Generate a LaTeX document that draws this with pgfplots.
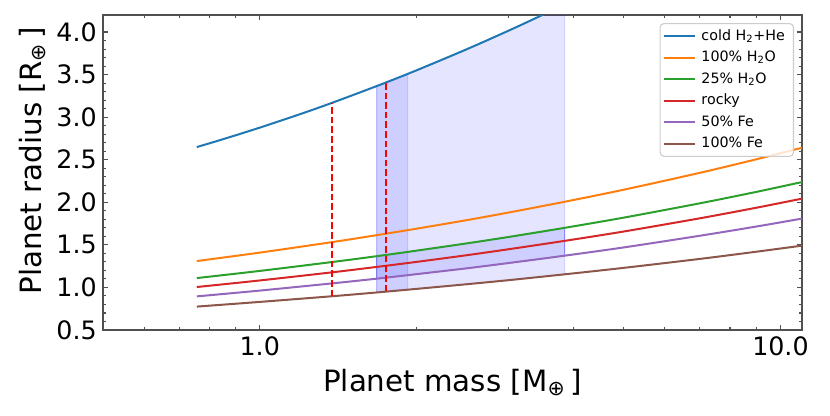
\documentclass[border=0pt]{standalone}
\usepackage{fontspec}
\setmainfont{DejaVu Sans}
\usepackage{pgfplots}
\pgfplotsset{compat=1.18}
\definecolor{c0}{HTML}{1F77B4}
\definecolor{c1}{HTML}{FF7F0E}
\definecolor{c2}{HTML}{2CA02C}
\definecolor{c3}{HTML}{D62728}
\definecolor{c4}{HTML}{9467BD}
\definecolor{c5}{HTML}{8C564B}
\definecolor{spine}{RGB}{80,80,80}
\definecolor{legedge}{RGB}{204,204,204}
\begin{document}
\begin{tikzpicture}
\path[use as bounding box] (-77.25pt,-63.75pt) rectangle (545.25pt,247.5pt);
\begin{axis}[
  at={(0pt,0pt)}, anchor=south west,
  scale only axis, width=524.25pt, height=236.25pt,
  xmode=log, log basis x=10,
  xmin=0.5, xmax=11, ymin=0.5, ymax=4.2,
  xtick={1,10}, xticklabels={1.0,10.0},
  minor xtick={0.6,0.7,0.8,0.9,2,3,4,5,6,7,8,9},
  ytick={0.5,1.0,1.5,2.0,2.5,3.0,3.5,4.0},
  yticklabels={0.5,1.0,1.5,2.0,2.5,3.0,3.5,4.0},
  minor y tick num=4,
  tick align=inside,
  major tick length=3.75pt, minor tick length=2.2pt,
  axis line style={spine, line width=1pt},
  tick style={spine, line width=0.8pt},
  tick label style={font=\fontsize{19}{22}\selectfont},
  y tick label style={inner sep=0pt, anchor=east, xshift=-4.5pt},
  x tick label style={inner sep=0pt, anchor=north, yshift=-5pt},
  xlabel={Planet mass [M\textsubscript{⊕}\,]},
  ylabel={Planet radius [R\textsubscript{⊕}\,]},
  xlabel style={at={(axis description cs:0.5,0)}, anchor=north, inner sep=0pt, yshift=-29.3pt, font=\fontsize{22}{26}\selectfont},
  ylabel style={at={(axis description cs:-0.0815,0.537)}, anchor=south, inner sep=0pt, font=\fontsize{22}{26}\selectfont},
  legend cell align=left,
  legend image code/.code={\draw[#1] (0pt,0pt) -- (23pt,0pt);},
  legend style={at={(1,1)}, anchor=north east, xshift=-6pt, yshift=-6pt,
    draw=legedge, line width=0.8pt, rounded corners=3pt, fill=white, fill opacity=0.8, text opacity=1,
    font=\fontsize{10.7}{12}\selectfont, inner xsep=2.5pt, inner ysep=1.5pt, row sep=0pt,
    nodes={inner xsep=4pt, inner ysep=2.75pt, text height=8.2pt, text depth=2.4pt}},
]
% shaded regions
\addplot[forget plot, fill=blue, fill opacity=0.1, draw=blue, draw opacity=0.12, line width=0.8pt] coordinates {
(1.677,0.941) (1.924,0.974) (2.0,0.983) (2.5,1.038) (3.0,1.085) (3.5,1.127) (3.85,1.154)
(3.85,4.325) (3.5,4.204) (3.0,4.014) (2.5,3.799) (2.0,3.550) (1.924,3.508) (1.8,3.435) (1.677,3.365)} -- cycle;
\addplot[forget plot, fill=blue, fill opacity=0.1, draw=blue, draw opacity=0.12, line width=0.8pt] coordinates {
(1.677,0.941) (1.924,0.974) (1.924,3.508) (1.8,3.435) (1.677,3.365)} -- cycle;
\addplot[forget plot, fill=blue, fill opacity=0.1, draw=blue, draw opacity=0.3, line width=0.8pt] coordinates {
(1.677,1.367) (1.924,1.417) (2.0,1.432) (2.5,1.518) (3.0,1.592) (3.5,1.658) (3.85,1.700)
(3.85,1.373) (3.5,1.339) (3.0,1.286) (2.5,1.225) (2.0,1.156) (1.924,1.144) (1.677,1.103)} -- cycle;
% curves
\addplot[c0, line width=1.5pt, smooth] coordinates {
(0.757,2.649) (0.85,2.741) (1.0,2.877) (1.2,3.039) (1.379,3.170) (1.677,3.365) (2.0,3.550) (2.5,3.799) (3.0,4.014) (3.5,4.204) (4.2,4.438)};
\addlegendentry{cold H\textsubscript{2}+He}
\addplot[c1, line width=1.5pt, smooth] coordinates {
(0.757,1.310) (1.0,1.409) (1.379,1.533) (1.677,1.614) (2.0,1.690) (2.5,1.791) (3.0,1.879) (3.85,2.006) (5.0,2.148) (7.0,2.346) (9.0,2.506) (11.0,2.641)};
\addlegendentry{100\% H\textsubscript{2}O}
\addplot[c2, line width=1.5pt, smooth] coordinates {
(0.757,1.110) (1.0,1.194) (1.379,1.299) (1.677,1.367) (2.0,1.432) (2.5,1.518) (3.0,1.592) (3.85,1.700) (5.0,1.820) (7.0,1.988) (9.0,2.123) (11.0,2.238)};
\addlegendentry{25\% H\textsubscript{2}O}
\addplot[c3, line width=1.5pt, smooth] coordinates {
(0.757,1.005) (1.0,1.082) (1.379,1.178) (1.677,1.241) (2.0,1.300) (2.5,1.379) (3.0,1.448) (3.85,1.547) (5.0,1.657) (7.0,1.812) (9.0,1.937) (11.0,2.043)};
\addlegendentry{rocky}
\addplot[c4, line width=1.5pt, smooth] coordinates {
(0.757,0.895) (1.0,0.963) (1.379,1.048) (1.677,1.103) (2.0,1.156) (2.5,1.225) (3.0,1.286) (3.85,1.373) (5.0,1.470) (7.0,1.607) (9.0,1.716) (11.0,1.809)};
\addlegendentry{50\% Fe}
\addplot[c5, line width=1.5pt, smooth] coordinates {
(0.757,0.775) (1.0,0.830) (1.379,0.897) (1.677,0.941) (2.0,0.983) (2.5,1.038) (3.0,1.085) (3.85,1.154) (5.0,1.230) (7.0,1.335) (9.0,1.420) (11.0,1.491)};
\addlegendentry{100\% Fe}
% dashed markers
\addplot[forget plot, red, line width=1.5pt, dash pattern=on 5pt off 2.2pt] coordinates {(1.379,0.897) (1.379,3.17)};
\addplot[forget plot, red, line width=1.5pt, dash pattern=on 5pt off 2.2pt] coordinates {(1.751,0.955) (1.751,3.41)};
\end{axis}
\end{tikzpicture}
\end{document}
